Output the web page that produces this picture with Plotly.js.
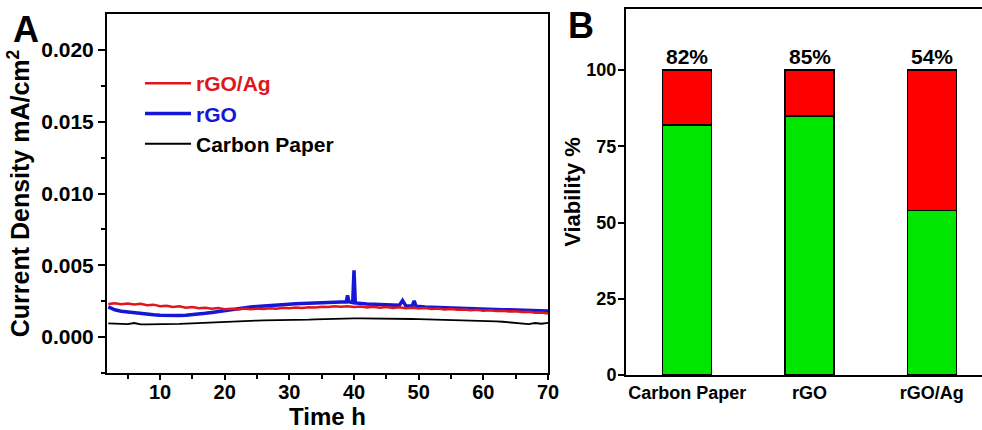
<!DOCTYPE html>
<html>
<head>
<meta charset="utf-8">
<script src="https://cdn.plot.ly/plotly-3.0.1.min.js"></script>
<style>html,body{margin:0;padding:0;background:#fff;}#chart{width:982px;height:430px;}</style>
</head>
<body>
<div id="chart"></div>
<script>
// ---- Panel A data ----
var timeRgoAg = [2,3,4,5,6,7,8,9,10,11,12,13,14,15,16,17,18,19,20,21,22,23,24,25,26,27,28,29,30,31,32,33,34,35,36,37,38,39,40,41,42,43,44,45,46,47,48,49,50,51,52,53,54,55,56,57,58,59,60,61,62,63,64,65,66,67,68,69,70];
var currentRgoAg = [0.00230,0.00236,0.00229,0.00234,0.00227,0.00232,0.00222,0.00226,0.00215,0.00219,0.00210,0.00214,0.00204,0.00209,0.00201,0.00205,0.00197,0.00203,0.00194,0.00198,0.00193,0.00199,0.00194,0.00199,0.00196,0.00201,0.00198,0.00204,0.00201,0.00206,0.00203,0.00208,0.00206,0.00212,0.00209,0.00214,0.00211,0.00215,0.00209,0.00213,0.00207,0.00211,0.00205,0.00209,0.00203,0.00207,0.00201,0.00205,0.00199,0.00202,0.00196,0.00199,0.00193,0.00196,0.00190,0.00193,0.00187,0.00190,0.00184,0.00187,0.00181,0.00184,0.00178,0.00180,0.00174,0.00176,0.00170,0.00171,0.00164];

var timeRgo = [2,3,4,5,6,7,8,9,10,11,12,13,14,15,16,17,18,19,20,21,22,23,24,25,26,27,28,29,30,31,32,33,34,35,36,37,38,38.8,39.0,39.2,39.8,40.0,40.2,41,42,43,44,45,46,47,47.5,48,49,49.3,49.6,50,51,52,53,54,55,56,57,58,59,60,61,62,63,64,65,66,67,68,69,70];
var currentRgo = [0.00210,0.00190,0.00180,0.00174,0.00168,0.00163,0.00158,0.00155,0.00152,0.00150,0.00149,0.00150,0.00152,0.00155,0.00160,0.00166,0.00172,0.00179,0.00186,0.00193,0.00199,0.00204,0.00209,0.00213,0.00217,0.00220,0.00224,0.00227,0.00230,0.00232,0.00234,0.00237,0.00239,0.00241,0.00242,0.00243,0.00244,0.00245,0.00290,0.00246,0.00240,0.00465,0.00238,0.00233,0.00231,0.00229,0.00227,0.00225,0.00223,0.00221,0.00255,0.00219,0.00217,0.00252,0.00215,0.00212,0.00210,0.00208,0.00206,0.00204,0.00203,0.00201,0.00200,0.00198,0.00197,0.00196,0.00194,0.00193,0.00191,0.00190,0.00189,0.00188,0.00186,0.00185,0.00183,0.00182];

var timeCarbon = [2,3,4,5,6,7,8,9,10,11,12,13,14,15,16,17,18,19,20,21,22,23,24,25,26,27,28,29,30,31,32,33,34,35,36,37,38,39,40,41,42,43,44,45,46,47,48,49,50,51,52,53,54,55,56,57,58,59,60,61,62,63,64,65,66,67,68,69,70];
var currentCarbon = [0.00095,0.00092,0.00090,0.00091,0.00098,0.00089,0.00088,0.00088,0.00089,0.00090,0.00091,0.00092,0.00094,0.00096,0.00098,0.00100,0.00103,0.00106,0.00110,0.00112,0.00113,0.00114,0.00115,0.00115,0.00116,0.00116,0.00116,0.00117,0.00117,0.00118,0.00119,0.00121,0.00123,0.00125,0.00127,0.00129,0.00130,0.00131,0.00131,0.00131,0.00131,0.00130,0.00130,0.00129,0.00128,0.00127,0.00127,0.00126,0.00125,0.00124,0.00123,0.00122,0.00121,0.00120,0.00118,0.00117,0.00115,0.00114,0.00112,0.00111,0.00109,0.00107,0.00104,0.00100,0.00095,0.00090,0.00098,0.00093,0.00099];

// ---- Panel B data ----
var samples = ['Carbon Paper','rGO','rGO/Ag'];
var viability = [82, 85, 54];
var nonViable = [18, 15, 46];
var viabilityLabels = ['82%','85%','54%'];

var FONT = 'Liberation Sans, Arial, Helvetica, sans-serif';
var RED = '#e0161c', BLUE = '#1616d8', GREEN = '#00e600';

var traces = [
  {x: timeCarbon, y: currentCarbon, type: 'scatter', mode: 'lines', xaxis: 'x', yaxis: 'y',
   name: '<span style="color:#000000">Carbon Paper</span>', line: {color: '#000000', width: 1.8}, legendrank: 3},
  {x: timeRgo, y: currentRgo, type: 'scatter', mode: 'lines', xaxis: 'x', yaxis: 'y',
   name: '<span style="color:#1616d8">rGO</span>', line: {color: BLUE, width: 3.5}, legendrank: 2},
  {x: timeRgoAg, y: currentRgoAg, type: 'scatter', mode: 'lines', xaxis: 'x', yaxis: 'y',
   name: '<span style="color:#e0161c">rGO/Ag</span>', line: {color: RED, width: 2.5}, legendrank: 1},
  {x: samples, y: viability, type: 'bar', xaxis: 'x2', yaxis: 'y2', showlegend: false,
   marker: {color: GREEN, line: {color: '#000', width: 1.5}}, width: 0.4},
  {x: samples, y: nonViable, type: 'bar', xaxis: 'x2', yaxis: 'y2', showlegend: false,
   marker: {color: '#ff0000', line: {color: '#000', width: 1.5}}, width: 0.4}
];

var annotations = [
  {text: 'A', xref: 'paper', yref: 'paper', x: 11/982, y: 1 - 7/430, xanchor: 'left', yanchor: 'top',
   showarrow: false, font: {family: FONT, size: 36, weight: 'bold', color: '#000'}},
  {text: 'B', xref: 'paper', yref: 'paper', x: 566/982, y: 1 - 3/430, xanchor: 'left', yanchor: 'top',
   showarrow: false, font: {family: FONT, size: 36, weight: 'bold', color: '#000'}}
];
for (var i = 0; i < samples.length; i++) {
  annotations.push({text: viabilityLabels[i], x: samples[i], y: viability[i] + nonViable[i], xref: 'x2', yref: 'y2',
    yanchor: 'bottom', yshift: 0, showarrow: false, font: {family: FONT, size: 21, weight: 'bold', color: '#000'}});
}

var axisCommon = {showline: true, linecolor: '#000', linewidth: 2, ticks: 'outside', tickcolor: '#000',
  tickwidth: 2, showgrid: false, zeroline: false, automargin: false};

var layout = {
  width: 982, height: 430,
  margin: {l: 0, r: 0, t: 0, b: 0},
  paper_bgcolor: '#fff', plot_bgcolor: '#fff',
  font: {family: FONT, color: '#000'},
  showlegend: true,
  legend: {x: 140/982, y: 1 - 63/430, xanchor: 'left', yanchor: 'top', bgcolor: 'rgba(0,0,0,0)',
    itemwidth: 46,
    font: {family: FONT, size: 21, weight: 'bold'}, traceorder: 'normal'},
  xaxis: Object.assign({}, axisCommon, {domain: [107/982, 548/982], anchor: 'y', range: [1.8, 70],
    tickvals: [10,20,30,40,50,60,70], ticklen: 5, mirror: true, ticklabelstandoff: -5,
    minor: {tickvals: [5,15,25,35,45,55,65], ticklen: 4, tickwidth: 2, tickcolor: '#000', ticks: 'outside'},
    tickfont: {family: FONT, size: 20, weight: 'bold'},
    title: {text: 'Time h', standoff: 2, font: {family: FONT, size: 24, weight: 'bold'}}}),
  yaxis: Object.assign({}, axisCommon, {domain: [57/430, 416/430], anchor: 'x', range: [-0.0025, 0.0225],
    tickvals: [0, 0.005, 0.01, 0.015, 0.02], tickformat: '.3f', ticklen: 7, mirror: true,
    minor: {tickvals: [-0.0025, 0.0025, 0.0075, 0.0125, 0.0175], ticklen: 4, tickwidth: 2, tickcolor: '#000', ticks: 'outside'},
    tickfont: {family: FONT, size: 21, weight: 'bold'},
    title: {text: 'Current Density mA/cm<sup>2</sup>', standoff: 4, font: {family: FONT, size: 25, weight: 'bold'}}}),
  xaxis2: Object.assign({}, axisCommon, {domain: [626/982, 1], anchor: 'y2', range: [-0.5, 2.41],
    ticks: '', mirror: true, type: 'category',
    tickfont: {family: FONT, size: 18, weight: 'bold'}}),
  yaxis2: Object.assign({}, axisCommon, {domain: [55/430, 421/430], anchor: 'x2', range: [0, 120],
    tickvals: [0, 25, 50, 75, 100], ticklen: 6, ticklabelstandoff: -2,
    tickfont: {family: FONT, size: 18, weight: 'bold'},
    title: {text: 'Viability %', standoff: 0, font: {family: FONT, size: 22, weight: 'bold'}}}),
  bargap: 0.6,
  barmode: 'stack',
  annotations: annotations
};

Plotly.newPlot('chart', traces, layout, {displayModeBar: false, staticPlot: true});
</script>
</body>
</html>
